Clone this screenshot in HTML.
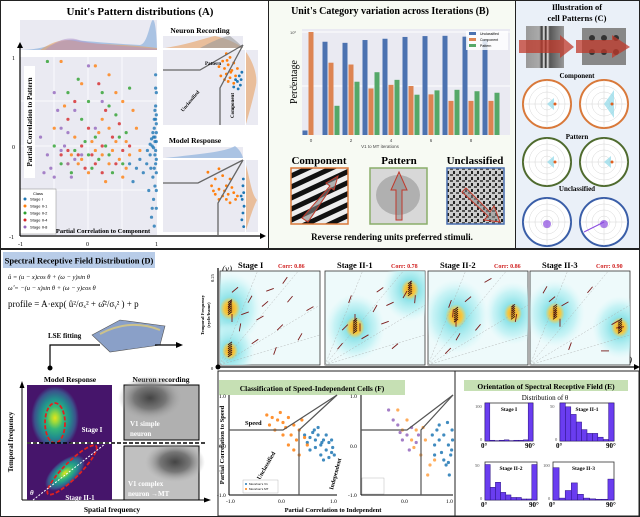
<!DOCTYPE html>
<html><head><meta charset="utf-8"><style>
body{margin:0;background:#fff}
svg{display:block;font-family:"Liberation Serif",serif}
.t{font-weight:bold}
.s{font-family:"Liberation Sans",sans-serif}
</style></head><body>
<svg id="fig" width="640" height="517" viewBox="0 0 640 517" xmlns="http://www.w3.org/2000/svg">
<defs>
<radialGradient id="cy"><stop offset="0" stop-color="#f0a020"/><stop offset="0.18" stop-color="#f5c840"/><stop offset="0.32" stop-color="#8fe3e8"/><stop offset="0.7" stop-color="#b8f0f3" stop-opacity="0.7"/><stop offset="1" stop-color="#d8f8fa" stop-opacity="0"/></radialGradient>
<radialGradient id="vir"><stop offset="0" stop-color="#e6e419"/><stop offset="0.15" stop-color="#9bd93c"/><stop offset="0.35" stop-color="#35b779"/><stop offset="0.6" stop-color="#21908d"/><stop offset="0.85" stop-color="#3b528b"/><stop offset="1" stop-color="#46156b"/></radialGradient>
<radialGradient id="gry"><stop offset="0" stop-color="#444"/><stop offset="0.5" stop-color="#777"/><stop offset="1" stop-color="#aaa" stop-opacity="0"/></radialGradient>
<linearGradient id="grat" x1="0" x2="1"><stop offset="0" stop-color="#999"/><stop offset="0.35" stop-color="#aaa"/><stop offset="0.42" stop-color="#333"/><stop offset="0.47" stop-color="#eee"/><stop offset="0.52" stop-color="#222"/><stop offset="0.57" stop-color="#eee"/><stop offset="0.62" stop-color="#555"/><stop offset="1" stop-color="#999"/></linearGradient>
<pattern id="stripes" width="10" height="10" patternUnits="userSpaceOnUse" patternTransform="rotate(-25)"><rect width="10" height="5" fill="#111"/><rect y="5" width="10" height="5" fill="#eee"/></pattern>
<pattern id="noise" width="6" height="6" patternUnits="userSpaceOnUse"><rect width="6" height="6" fill="#ccc"/><rect width="3" height="2" fill="#555"/><rect x="3" y="3" width="2" height="3" fill="#222"/></pattern>
</defs>
<rect width="640" height="517" fill="#fff"/>
<g id="pA">
<rect x="0.5" y="0.5" width="268" height="248" fill="#fff" stroke="#222"/>
<text x="140" y="15" text-anchor="middle" class="t" font-size="11">Unit's Pattern distributions (A)</text>
<rect x="20" y="20" width="137" height="30" fill="#eaeaf2"/>
<path d="M20 50 C50 50 60 38 75 40 C95 42 120 44 140 45 C148 44 150 20 153 20 C156 20 157 45 157 50Z" fill="#7fa8d8" opacity="0.6"/>
<path d="M40 50 C55 40 65 38 80 42 C100 45 130 44 157 48 L157 50Z" fill="#e8a060" opacity="0.6"/>
<path d="M45 50 C60 38 70 36 82 41 C100 45 130 46 157 49 L157 50Z" fill="#b090c8" opacity="0.5"/>
<rect x="20" y="57" width="137" height="178" fill="#eaeaf2"/>
<g stroke="#fff" stroke-width="0.8">
<line x1="54" y1="57" x2="54" y2="235"/><line x1="88" y1="57" x2="88" y2="235"/><line x1="122" y1="57" x2="122" y2="235"/>
<line x1="20" y1="101" x2="157" y2="101"/><line x1="20" y1="146" x2="157" y2="146"/><line x1="20" y1="190" x2="157" y2="190"/>
</g>
<g id="scA"></g>
<rect x="24" y="66" width="11" height="112" fill="#fff"/>
<text transform="translate(32,122) rotate(-90)" text-anchor="middle" class="t" font-size="7">Partial Correlation to Pattern</text>
<rect x="20" y="189" width="36" height="45" fill="#fff" stroke="#888" stroke-width="0.5"/>
<g id="legA" font-size="4" class="s"></g>
<line x1="20" y1="236" x2="20" y2="46" stroke="#000" stroke-width="1.2"/>
<path d="M17 48 L20 42 L23 48Z"/>
<line x1="20" y1="236" x2="262" y2="236" stroke="#000" stroke-width="1.2"/>
<path d="M260 233 L266 236 L260 239Z"/>
<g font-size="6"><text x="12" y="60">1</text><text x="12" y="149">0</text><text x="9" y="239">-1</text><text x="18" y="246">-1</text><text x="86" y="246">0</text><text x="155" y="246">1</text></g>
<text x="103" y="233" text-anchor="middle" class="t" font-size="6.5">Partial Correlation to Component</text>
<text x="200" y="33" text-anchor="middle" class="t" font-size="7.5">Neuron Recording</text>
<rect x="163" y="36" width="80" height="12" fill="#eaeaf2"/>
<path d="M165 48 C190 44 205 38 215 36 C225 38 235 42 243 48Z" fill="#e8a060" opacity="0.6"/>
<path d="M200 48 C215 40 225 36 230 36 C235 40 240 44 243 48Z" fill="#999" opacity="0.6"/>
<rect x="163" y="50" width="82" height="75" fill="#eaeaf2"/>
<rect x="246" y="50" width="12" height="75" fill="#eaeaf2"/>
<path d="M246 52 C252 60 258 75 256 85 C254 95 250 110 246 124Z" fill="#e8a060" opacity="0.6"/>
<g id="scNR"></g>
<polyline points="163,70 200,70 243,45" fill="none" stroke="#666" stroke-width="1.3"/>
<polyline points="220,125 220,88 243,45" fill="none" stroke="#666" stroke-width="1.3"/>
<text x="205" y="65" font-size="5" class="t">Pattern</text>
<text transform="translate(183,112) rotate(-50)" font-size="5" class="t">Unclassified</text>
<text transform="translate(234,118) rotate(-90)" font-size="5" class="t">Component</text>
<text x="195" y="143" text-anchor="middle" class="t" font-size="7.5">Model Response</text>
<rect x="163" y="147" width="80" height="11" fill="#eaeaf2"/>
<path d="M165 158 C200 154 225 152 235 146 C240 150 242 154 243 158Z" fill="#7fa8d8" opacity="0.6"/>
<rect x="163" y="160" width="82" height="72" fill="#eaeaf2"/>
<rect x="246" y="160" width="12" height="72" fill="#eaeaf2"/>
<path d="M246 165 C250 180 252 195 257 200 C252 210 248 225 246 230Z" fill="#e8a060" opacity="0.6"/>
<g id="scMR"></g>
<polyline points="163,183 198,183 243,160" fill="none" stroke="#666" stroke-width="1.3"/>
<polyline points="218,236 218,203 243,160" fill="none" stroke="#666" stroke-width="1.3"/>
</g>
<g id="pB">
<rect x="268.5" y="0.5" width="247" height="248" fill="#f7faf3" stroke="#222"/>
<text x="390" y="14" text-anchor="middle" class="t" font-size="10">Unit's Category variation across Iterations (B)</text>
<rect x="302" y="29" width="208" height="106" fill="#eaeaf2"/>
<line x1="302" y1="32" x2="510" y2="32" stroke="#fff"/>
<line x1="302" y1="86" x2="510" y2="86" stroke="#fff"/>
<g id="bars"></g>
<g font-size="4" class="s" fill="#444"><text x="290" y="34">10⁰</text><text x="289" y="88">10⁻¹</text></g>
<g id="bxt" font-size="4.5" class="s" fill="#444"></g>
<text x="380" y="148" text-anchor="middle" font-size="4.5" class="s" fill="#444">V1 to MT iterations</text>
<text transform="translate(297,82) rotate(-90)" text-anchor="middle" font-size="10">Percentage</text>
<rect x="466" y="31" width="42" height="19" fill="#fff" opacity="0.8"/>
<g font-size="3.5" class="s">
<rect x="469" y="32" width="7" height="3" fill="#4c72b0"/><text x="480" y="35">Unclassified</text>
<rect x="469" y="38" width="7" height="3" fill="#dd8452"/><text x="480" y="41">Component</text>
<rect x="469" y="44" width="7" height="3" fill="#55a868"/><text x="480" y="47">Pattern</text></g>
<g class="t" font-size="11" text-anchor="middle"><text x="319" y="164">Component</text><text x="399" y="164">Pattern</text><text x="475" y="164">Unclassified</text></g>
<rect x="291" y="168" width="57" height="56" fill="url(#stripes)" stroke="#d9793a" stroke-width="1.5"/>
<rect x="370" y="168" width="57" height="56" fill="#d8d8d8" stroke="#8aae6a" stroke-width="1.5"/>
<ellipse cx="398" cy="195" rx="22" ry="20" fill="#888" opacity="0.5"/>
<rect x="447" y="168" width="57" height="56" fill="url(#noise)" stroke="#4a6eb0" stroke-width="1.5"/>
<path d="M302 218 L330 186 L326 183 L338 176 L334 190 L331 188 L308 222Z" fill="#888" fill-opacity="0.6" stroke="#c0392b"/>
<path d="M396 220 L396 190 L391 190 L399 172 L407 190 L402 190 L402 220Z" fill="#888" fill-opacity="0.5" stroke="#c0392b"/>
<path d="M466 188 L490 212 L494 206 L500 222 L484 220 L488 216 L462 192Z" fill="#888" fill-opacity="0.5" stroke="#c0392b"/>
<text x="392" y="240" text-anchor="middle" class="t" font-size="9">Reverse rendering units preferred stimuli.</text>
</g>
<g id="pC">
<rect x="515.5" y="0.5" width="124" height="248" fill="#eaf0f8" stroke="#222"/>
<text x="577" y="10" text-anchor="middle" class="t" font-size="8.5">Illustration of</text>
<text x="577" y="21" text-anchor="middle" class="t" font-size="8.5">cell Patterns (C)</text>
<rect x="526" y="26" width="38" height="42" fill="url(#grat)"/>
<rect x="582" y="28" width="44" height="37" fill="#888"/>
<g fill="#333"><circle cx="592" cy="38" r="3"/><circle cx="604" cy="38" r="3"/><circle cx="616" cy="38" r="3"/><circle cx="592" cy="52" r="3"/><circle cx="604" cy="52" r="3"/><circle cx="616" cy="52" r="3"/></g>
<path d="M519 40 L560 40 L560 35 L574 47 L560 58 L560 53 L519 53Z" fill="#c0392b" opacity="0.75"/>
<path d="M576 40 L612 40 L612 35 L630 47 L612 58 L612 53 L576 53Z" fill="#c0392b" opacity="0.75"/>
<g class="t" font-size="7" text-anchor="middle"><text x="577" y="78">Component</text><text x="577" y="139">Pattern</text><text x="577" y="191">Unclassified</text></g>
<g id="polars"></g>
</g>
<rect x="0.5" y="249.5" width="639" height="267" fill="none" stroke="#222"/>
<g id="pD">
<rect x="3" y="252" width="152" height="16" fill="#b8cce8"/>
<text x="79" y="263.5" text-anchor="middle" class="t" font-size="8.5">Spectral Receptive Field Distribution (D)</text>
<text x="8" y="279" font-size="6.5" font-style="italic">û = (u − x)cos θ + (ω − y)sin θ</text>
<text x="8" y="290" font-size="6.5" font-style="italic">ω̂ = −(u − x)sin θ + (ω − y)cos θ</text>
<text x="8" y="307" font-size="9">profile = A·exp( û²/σₓ² + ω̂²/σᵧ² ) + p</text>
<text x="48" y="338" class="t" font-size="7">LSE fitting</text>
<path d="M92 335 L120 320 L165 326 L160 345 L110 352Z" fill="#8aa0c8" stroke="#555" stroke-width="0.6"/>
<path d="M100 334 Q130 318 160 330" fill="none" stroke="#e8d070" stroke-width="2" opacity="0.7"/>
<polyline points="50,368 50,345 100,345" fill="none" stroke="#000" stroke-width="1.2"/>
<line x1="155" y1="345" x2="178" y2="345" stroke="#000" stroke-width="1.2"/>
<path d="M176 342 L183 345 L176 348Z"/>
<circle cx="50" cy="368" r="2.5"/>
<text x="70" y="382" text-anchor="middle" class="t" font-size="7.5">Model Response</text>
<text x="161" y="382" text-anchor="middle" class="t" font-size="7.5">Neuron recording</text>
<line x1="22" y1="500" x2="22" y2="385" stroke="#000"/>
<path d="M19.5 388 L22 381 L24.5 388Z"/>
<line x1="22" y1="500" x2="206" y2="500" stroke="#000"/>
<path d="M204 497.5 L211 500 L204 502.5Z"/>
<text transform="translate(13,442) rotate(-90)" text-anchor="middle" class="t" font-size="7">Temporal frequency</text>
<text x="112" y="512" text-anchor="middle" class="t" font-size="7.5">Spatial frequency</text>
<rect x="27" y="385" width="85" height="57" fill="#46156b"/>
<ellipse cx="55" cy="418" rx="24" ry="32" fill="url(#vir)"/>
<ellipse cx="55" cy="423" rx="10" ry="20" fill="none" stroke="#e02020" stroke-width="1.8" stroke-dasharray="4,2"/>
<text x="92" y="432" text-anchor="middle" class="t" font-size="7" fill="#fff">Stage I</text>
<rect x="27" y="444" width="85" height="56" fill="#46156b"/>
<ellipse cx="65" cy="473" rx="24" ry="12" transform="rotate(-40 65 473)" fill="url(#vir)"/>
<ellipse cx="72" cy="470" rx="34" ry="8" transform="rotate(-45 72 470)" fill="none" stroke="#e02020" stroke-width="1.8" stroke-dasharray="4,2"/>
<line x1="33" y1="500" x2="105" y2="444" stroke="#fff" stroke-dasharray="2,1.5"/>
<text x="30" y="495" fill="#fff" font-style="italic" class="t" font-size="7">θ</text>
<text x="80" y="500" text-anchor="middle" class="t" font-size="7" fill="#fff">Stage II-1</text>
<line x1="27" y1="443" x2="206" y2="443" stroke="#000" stroke-width="1.5" stroke-dasharray="4,2"/>
<rect x="124" y="385" width="75" height="55" fill="#b0b0b0" stroke="#000"/>
<ellipse cx="150" cy="398" rx="32" ry="22" fill="url(#gry)"/>
<text x="130" y="426" class="t" font-size="7" fill="#fff">V1 simple</text>
<text x="130" y="436" class="t" font-size="7" fill="#fff">neuron</text>
<rect x="124" y="446" width="75" height="54" fill="#c0c0c0" stroke="#000"/>
<ellipse cx="175" cy="462" rx="30" ry="20" fill="url(#gry)"/>
<text x="128" y="486" class="t" font-size="7" fill="#fff">V1 complex</text>
<text x="128" y="496" class="t" font-size="7" fill="#fff">neuron →MT</text>
</g>
<g id="spec">
<line x1="218" y1="367" x2="636" y2="367" stroke="#000" stroke-width="1.2"/>
<path d="M634 364 L640 367 L634 370Z"/>
<line x1="218" y1="367" x2="218" y2="268" stroke="#000" stroke-width="1.2"/>
<circle cx="218" cy="367" r="2.5"/>
<text x="222" y="272" font-size="9" font-style="italic">(y)</text>
<text x="622" y="363" font-size="9" font-style="italic">(x)</text>
<g font-size="4.5"><text x="211" y="370">0</text><text transform="translate(214,282) rotate(-90)">0.25</text><text x="218" y="376">0</text><text x="312" y="376">0.25</text><text x="527" y="376">0</text><text x="626" y="376">0.25</text></g>
<text x="440" y="375" text-anchor="middle" class="t" font-size="5.5">Spatial Frequency (cycle/pixel)</text>
<text transform="translate(204,315) rotate(-90)" text-anchor="middle" class="t" font-size="4.5">Temporal Frequency</text>
<text transform="translate(210,315) rotate(-90)" text-anchor="middle" class="t" font-size="4.5">(cycle/frame)</text>
</g>
<g id="pF">
<rect x="218" y="371" width="237" height="145" fill="#fff" stroke="#222"/>
<rect x="219" y="380" width="186" height="15" fill="#c6e0b4"/>
<text x="312" y="391" text-anchor="middle" class="t" font-size="7.5">Classification of Speed-Independent Cells (F)</text>
<line x1="229" y1="395" x2="229" y2="495" stroke="#000"/>
<line x1="229" y1="495" x2="337" y2="495" stroke="#000"/>
<line x1="361" y1="395" x2="361" y2="495" stroke="#000"/>
<line x1="361" y1="495" x2="453" y2="495" stroke="#000"/>
<g id="scF"></g>
<polyline points="229,430 283,430 337,395" fill="none" stroke="#555" stroke-width="1.2"/>
<polyline points="299,495 299,430 337,395" fill="none" stroke="#555" stroke-width="1.2"/>
<polyline points="361,430 407,430 453,395" fill="none" stroke="#555" stroke-width="1.2"/>
<polyline points="421,495 421,430 453,395" fill="none" stroke="#555" stroke-width="1.2"/>
<text x="245" y="425" class="t" font-size="6.5">Speed</text>
<text transform="translate(260,480) rotate(-60)" class="t" font-size="6">Unclassified</text>
<text transform="translate(333,490) rotate(-75)" class="t" font-size="6">Independent</text>
<g font-size="5.5"><text x="219" y="398">1.0</text><text x="219" y="448">0.0</text><text x="217" y="497">-1.0</text><text x="226" y="503">-1.0</text><text x="278" y="503">0.0</text><text x="330" y="503">1.0</text><text x="350" y="398">1.0</text><text x="350" y="448">0.0</text><text x="348" y="497">-1.0</text><text x="401" y="503">0.0</text><text x="446" y="503">1.0</text></g>
<text x="333" y="512" text-anchor="middle" class="t" font-size="6.5">Partial Correlation to Independent</text>
<text transform="translate(224,445) rotate(-90)" text-anchor="middle" class="t" font-size="6.5">Partial Correlation to Speed</text>
<rect x="243" y="480" width="35" height="13" fill="#fff" stroke="#aaa" stroke-width="0.4"/>
<g font-size="3" class="s"><circle cx="246" cy="484" r="1" fill="#1f77b4"/><text x="249" y="485">Movshon's V1</text><circle cx="246" cy="489" r="1" fill="#ff7f0e"/><text x="249" y="490">Movshon's MT</text></g>
<rect x="362" y="478" width="22" height="16" fill="#fff" stroke="#aaa" stroke-width="0.4"/>
</g>
<g id="pE">
<rect x="455" y="371" width="184" height="145" fill="#fff" stroke="#222"/>
<rect x="464" y="380" width="164" height="11" fill="#c6e0b4"/>
<text x="546" y="389" text-anchor="middle" class="t" font-size="7.5">Orientation of Spectral Receptive Field (E)</text>
<text x="545" y="400" text-anchor="middle" font-size="7">Distribution of θ</text>
<g id="hists"></g>
</g>
</svg>
<script>
const NS="http://www.w3.org/2000/svg";
function mk(tag,attrs,parent){const e=document.createElementNS(NS,tag);for(const k in attrs)e.setAttribute(k,attrs[k]);parent.appendChild(e);return e;}
const aStage1=[[0.98,0.8],[0.99,0.6],[0.97,0.4],[0.98,0.3],[0.96,0.2],[0.99,0.15],[0.95,0.1],[0.97,0.05],[0.93,0.0],[0.98,-0.05],[0.9,-0.1],[0.99,-0.15],[0.85,-0.2],[0.96,-0.25],[0.8,-0.3],[0.94,-0.35],[0.7,-0.25],[0.97,-0.45],[0.88,-0.5],[0.95,-0.6],[0.99,-0.7],[0.92,-0.8],[0.96,-0.9],[0.75,-0.15],[0.6,-0.2],[0.98,0.45],[0.99,0.25],[0.97,0.1],[0.92,0.08],[0.99,-0.3],[0.94,0.15],[0.9,0.02],[0.86,-0.05],[0.98,-0.2],[0.65,-0.4],[0.99,0.35],[0.97,-0.1],[0.95,-0.02],[0.99,0.05],[0.91,-0.25],[0.96,0.3],[0.99,-0.5],[0.93,-0.7],[0.98,0.65]];
const aStage2_1=[[-0.4,0.95],[-0.1,0.7],[0.3,0.8],[0.5,0.5],[0.2,0.3],[-0.2,0.1],[0.1,-0.05],[0.4,0.05],[0.6,-0.1],[-0.3,-0.2],[0.0,-0.3],[0.3,-0.2],[0.5,-0.35],[0.7,0.2],[-0.5,0.2],[0.15,0.15],[0.45,-0.15],[-0.1,-0.15],[0.25,-0.4],[0.65,0.4],[0.35,-0.05],[-0.25,-0.1],[0.55,0.05],[0.05,0.05],[0.1,0.9],[0.4,0.6],[-0.35,0.45],[0.2,-0.1],[0.55,-0.25],[-0.15,-0.2],[0.3,0.2],[0.75,-0.05]];
const aStage2_2=[[-0.6,0.95],[-0.3,0.6],[0.0,0.5],[0.4,0.35],[0.1,0.1],[-0.2,-0.05],[0.3,-0.1],[-0.4,-0.2],[0.05,-0.25],[0.55,0.15],[-0.1,0.3],[0.2,0.6],[-0.5,0.0],[0.35,-0.3],[0.6,0.65],[-0.25,-0.3],[0.15,-0.15],[0.45,0.1],[-0.05,0.05],[0.25,0.0],[-0.15,0.75],[0.3,0.45],[0.0,-0.1],[0.5,-0.2]];
const aStage2_4=[[-0.3,0.3],[0.0,0.2],[0.2,0.0],[-0.15,-0.1],[0.1,-0.2],[0.35,0.1],[-0.4,-0.1],[0.5,-0.05],[0.25,0.4],[-0.05,-0.25],[0.4,-0.2],[0.6,0.0],[-0.2,0.5],[0.15,0.7],[-0.3,-0.05],[0.05,-0.1],[-0.1,0.0],[0.2,-0.3],[0.45,0.25]];
const aStage2_8=[[-0.5,0.6],[-0.4,0.2],[-0.6,-0.1],[-0.3,-0.2],[-0.2,0.4],[-0.5,-0.35],[-0.7,0.1],[0.0,0.9],[-0.35,0.0],[-0.1,-0.1],[0.2,0.5],[-0.45,0.4],[-0.25,-0.35],[0.1,0.2],[-0.55,-0.25],[-0.2,-0.15],[-0.65,-0.3],[-0.4,-0.05],[-0.3,0.15]];
const aClasses=["Stage I","Stage II-1","Stage II-2","Stage II-4","Stage II-8"];
const nrMT=[[0.5,0.9],[0.6,0.8],[0.4,0.7],[0.55,0.6],[0.7,0.65],[0.45,0.5],[0.65,0.45],[0.3,0.55],[0.5,0.35],[0.75,0.3],[0.6,0.25],[0.35,0.3],[0.8,0.5],[0.55,0.15],[0.7,0.1],[0.45,0.2],[0.62,0.4],[0.52,0.72]];
const nrV1=[[0.85,0.3],[0.9,0.2],[0.8,0.15],[0.88,0.05],[0.75,0.2],[0.92,0.4],[0.82,-0.05],[0.7,0.0]];
const mrOrange=[[0.0,0.7],[0.3,0.8],[0.2,0.5],[0.4,0.6],[0.1,0.3],[0.3,0.2],[0.5,0.3],[0.6,0.5],[0.2,0.05],[0.4,0.0],[0.5,-0.1],[0.7,0.1],[0.6,-0.2],[0.3,-0.1],[0.8,0.0],[0.45,0.15],[0.65,0.25],[0.15,0.15],[0.55,0.05],[0.75,-0.1]];
const mrBlue=[[0.95,0.3],[0.97,0.1],[0.93,-0.1],[0.98,-0.3],[0.95,-0.5],[0.92,-0.7],[0.97,-0.9],[0.9,0.0],[0.96,0.5]];
const barUnc=[0.015,0.66,0.63,0.71,0.75,0.81,0.84,0.85,0.82,0.72];
const barComp=[1.0,0.27,0.25,0.09,0.105,0.1,0.07,0.053,0.053,0.053];
const barPat=[0.011,0.043,0.12,0.18,0.13,0.069,0.083,0.085,0.08,0.075];
const xTickLabels=["0","2","4","6","8"];
const specTitles=["Stage I","Stage II-1","Stage II-2","Stage II-3"];
const specCorr=["Corr: 0.86","Corr: 0.78","Corr: 0.86","Corr: 0.90"];
const specBlobs=[[[0.1,0.4,0.32],[0.1,0.85,0.25]],[[0.85,0.2,0.28],[0.3,0.6,0.3]],[[0.28,0.48,0.33],[0.85,0.45,0.28]],[[0.25,0.45,0.3],[0.9,0.6,0.28]]];
const specSegs=[[[0.1,0.35,70],[0.15,0.2,40],[0.3,0.3,60],[0.4,0.5,30],[0.5,0.2,20],[0.6,0.6,45],[0.2,0.6,80],[0.7,0.3,50],[0.35,0.75,35],[0.8,0.7,60],[0.25,0.45,20],[0.55,0.85,70],[0.12,0.5,90],[0.45,0.35,40],[0.65,0.1,55],[0.9,0.4,30]],
[[0.85,0.15,80],[0.8,0.25,60],[0.3,0.5,90],[0.2,0.6,45],[0.4,0.7,30],[0.5,0.4,60],[0.6,0.55,20],[0.7,0.8,40],[0.25,0.3,70],[0.9,0.3,85],[0.15,0.8,50],[0.55,0.2,35],[0.35,0.6,90],[0.65,0.35,25]],
[[0.25,0.45,85],[0.28,0.55,90],[0.22,0.35,70],[0.85,0.4,90],[0.88,0.5,80],[0.4,0.3,40],[0.3,0.7,60],[0.6,0.1,30],[0.5,0.6,50],[0.2,0.85,45]],
[[0.25,0.45,85],[0.22,0.3,40],[0.3,0.55,90],[0.9,0.6,10],[0.85,0.55,30],[0.6,0.2,50],[0.4,0.8,70],[0.75,0.85,0],[0.15,0.2,60],[0.35,0.35,30]]];
const fMovV1=[[0.5,0.15],[0.6,0.1],[0.7,0.0],[0.8,-0.1],[0.9,-0.15],[0.55,0.25],[0.65,0.2],[0.75,0.1],[0.85,0.05],[0.95,-0.2],[0.45,0.05],[0.7,-0.2],[0.8,0.2],[0.6,-0.05],[0.9,0.1],[0.5,-0.1],[0.75,-0.3],[0.65,0.35],[0.4,0.2],[0.85,-0.25],[0.72,0.05],[0.58,0.3],[0.92,-0.05]];
const fMovMT=[[-0.3,0.6],[-0.2,0.55],[-0.1,0.5],[0.0,0.45],[0.1,0.55],[-0.25,0.4],[0.05,0.35],[0.2,0.4],[0.3,0.3],[0.15,0.2],[-0.15,0.3],[0.35,0.5],[0.0,0.2],[0.25,0.1],[0.1,0.0],[0.4,0.15],[0.3,-0.2],[0.2,-0.1],[-0.05,0.65],[0.45,0.0]];
const fModS1=[[0.8,0.2],[0.9,0.0],[0.95,-0.2],[0.85,-0.4],[0.7,0.1],[0.6,0.0],[0.98,0.3],[0.75,-0.15],[0.92,-0.6],[0.65,0.3],[0.55,0.2],[0.88,0.45],[0.97,-0.1],[0.8,-0.3],[0.7,0.4],[0.99,0.1],[0.9,-0.35],[0.6,-0.2]];
const fModS2=[[-0.2,0.7],[0.0,0.5],[0.2,0.3],[0.4,0.1],[0.3,-0.2],[0.1,0.1],[0.5,-0.4],[-0.1,0.3],[0.35,0.35],[0.6,-0.3],[0.15,-0.05],[0.45,-0.6]];
const fModS3=[[-0.4,0.7],[-0.2,0.4],[0.0,0.2],[0.1,0.35],[-0.1,0.1],[0.2,0.05],[0.05,-0.1],[-0.3,0.5],[0.25,0.2],[-0.15,0.25]];
const histI=[100,2,1,2,3,1,2,2,3,100];
const histII1=[50,45,35,25,15,10,10,5,2,50];
const histII2=[70,25,35,15,10,5,5,2,2,70];
const histII3=[85,5,25,45,15,5,3,2,2,55];
const histNames=["Stage I","Stage II-1","Stage II-2","Stage II-3"];
const histMax=[100,50,75,100];
const colA=["#1f77b4","#ff7f0e","#2ca02c","#d62728","#9467bd"];
const aSets=[aStage1,aStage2_1,aStage2_2,aStage2_4,aStage2_8];
const ax=v=>88.5+68.5*v, ay=v=>146-89*v;
const gA=document.getElementById('scA');
aSets.forEach((set,k)=>set.forEach(p=>{
  const c=mk('circle',{cx:ax(p[0]),cy:ay(p[1]),r:1.6,fill:colA[k],opacity:0.8},gA);
  
  
}));
const lg=document.getElementById('legA');
mk('text',{x:33,y:195},lg).textContent="Class";
aClasses.forEach((n,i)=>{
  const d=mk('circle',{cx:25,cy:199+i*7,r:1.5,fill:colA[i]},lg);
  
  
  const t=mk('text',{x:30,y:200.5+i*7},lg);t.textContent=n;
  
  
});
const nx=v=>163+82*(v+1)/2*0.9+8, ny=v=>87-37*v;
const gN=document.getElementById('scNR');
nrMT.forEach(p=>{const c=mk('circle',{cx:nx(p[0]),cy:ny(p[1]),r:1.4,fill:"#ff7f0e"},gN);
  
  });
nrV1.forEach(p=>{const c=mk('circle',{cx:nx(p[0]),cy:ny(p[1]),r:1.4,fill:"#1f77b4"},gN);
  
  });
const my=v=>196-34*v;
const gM=document.getElementById('scMR');
mrOrange.forEach(p=>{const c=mk('circle',{cx:nx(p[0]),cy:my(p[1]),r:1.4,fill:"#ff7f0e"},gM);
  
  });
mrBlue.forEach(p=>{const c=mk('circle',{cx:nx(p[0]),cy:my(p[1]),r:1.4,fill:"#1f77b4"},gM);
  
  });
const by=v=>Math.min(135,32-54*Math.log10(v));
const bx=i=>311+20*i;
const gB=document.getElementById('bars');
[[barUnc,"#4c72b0",-6],[barComp,"#dd8452",0],[barPat,"#55a868",6]].forEach(([arr,col,off])=>arr.forEach((v,i)=>{
  const y=by(v);
  const r=mk('rect',{x:bx(i)+off-2.5,y:y,width:5,height:135-y,fill:col},gB);
  
  
}));
const gX=document.getElementById('bxt');
xTickLabels.forEach((l,i)=>{const t=mk('text',{x:bx(i*2),y:142,'text-anchor':'middle'},gX);t.textContent=l;
  
  });
const gP=document.getElementById('polars');
const polarDefs=[[547,104,"#d9793a"],[604,104,"#d9793a"],[547,162,"#4f6b2e"],[604,162,"#4f6b2e"],[547,222,"#3a5ea8"],[604,222,"#3a5ea8"]];
polarDefs.forEach((p,i)=>{
  const g=mk('g',{},gP);
  
  
  mk('circle',{cx:p[0],cy:p[1],r:24,fill:'#fff',stroke:p[2],'stroke-width':2},g);
  [6,12,18].forEach(r=>mk('circle',{cx:p[0],cy:p[1],r:r,fill:'none',stroke:'#ccc','stroke-width':0.4},g));
  mk('line',{x1:p[0]-24,y1:p[1],x2:p[0]+24,y2:p[1],stroke:'#ccc','stroke-width':0.4},g);
  mk('line',{x1:p[0],y1:p[1]-24,x2:p[0],y2:p[1]+24,stroke:'#ccc','stroke-width':0.4},g);
  if(i<4){mk('path',{d:`M${p[0]} ${p[1]} l${i==1?10:7} -${i==1?14:6} l0 ${i==1?28:12}Z`,fill:'#8fd8e8',opacity:0.7},g);
    mk('circle',{cx:p[0]+8,cy:p[1],r:1.5,fill:'#e06020'},g);}
  else {mk('circle',{cx:p[0],cy:p[1]+2,r:4,fill:'#8a4ae0',opacity:0.7},g);
    if(i==5)mk('line',{x1:p[0],y1:p[1],x2:p[0]-20,y2:p[1]+10,stroke:'#8a4ae0'},g);}
});
const gS=document.getElementById('spec');
const sx0=[220,325,428,530], sw=100, sy0=271, sh=94;
specTitles.forEach((t,k)=>{
  const g=mk('g',{},gS);
  
  
  const X=v=>sx0[k]+v*sw, Y=v=>sy0+v*sh;
  mk('rect',{x:sx0[k],y:sy0,width:sw,height:sh,fill:'#eefafb',stroke:'#333','stroke-width':0.8},g);
  const cp=mk('clipPath',{id:'cp'+k},g);
  mk('rect',{x:sx0[k],y:sy0,width:sw,height:sh},cp);
  const gi=mk('g',{'clip-path':'url(#cp'+k+')'},g);
  specBlobs[k].forEach(b=>{const e=mk('ellipse',{cx:X(b[0]),cy:Y(b[1]),rx:b[2]*sw,ry:b[2]*sh*1.2,fill:'url(#cy)'},gi);
    
    });
  [0.3,0.6,1.2,2.5].forEach(s=>mk('line',{x1:sx0[k],y1:sy0+sh,x2:sx0[k]+Math.min(sw,sh/s),y2:sy0+sh-Math.min(sh,sw*s),stroke:'#aaa','stroke-width':0.4,'stroke-dasharray':'2,1.5'},g));
  specSegs[k].forEach(s=>{const a=s[2]*Math.PI/180,dx=4*Math.cos(a),dy=4*Math.sin(a);
    const l=mk('line',{x1:X(s[0])-dx,y1:Y(s[1])+dy,x2:X(s[0])+dx,y2:Y(s[1])-dy,stroke:'#7a1a1a','stroke-width':0.9},g);
    
    });
  specBlobs[k].forEach(b=>{for(let j=-3;j<=3;j++){const l=mk('line',{x1:X(b[0])-2,y1:Y(b[1])+j*2,x2:X(b[0])+2,y2:Y(b[1])+j*2-3,stroke:'#301010','stroke-width':0.9},g);
    
    }});
  const tt=mk('text',{x:sx0[k]+(k==0?18:12),y:268,'font-size':8.5,'font-weight':'bold'},gS);tt.textContent=t;
  
  
  const ct=mk('text',{x:sx0[k]+(k==0?58:66),y:268,'font-size':6,'font-weight':'bold',fill:'#d02020'},gS);ct.textContent=specCorr[k];
  
  
});
const gF=document.getElementById('scF');
const f1x=v=>283+54*v, fy=v=>445-50*v, f2x=v=>407+46*v;
[[fMovV1,"#1f77b4",f1x],[fMovMT,"#ff7f0e",f1x],[fModS1,"#1f77b4",f2x],[fModS2,"#ff9f40",f2x],[fModS3,"#9467bd",f2x]].forEach(([arr,col,fx])=>arr.forEach(p=>{
  const c=mk('circle',{cx:fx(p[0]),cy:fy(p[1]),r:1.6,fill:col,opacity:0.85},gF);
  
  
}));
const gH=document.getElementById('hists');
const hBox=[[485,403,48,38],[560,403,54,38],[485,462,52,38],[553,462,61,38]];
[histI,histII1,histII2,histII3].forEach((h,k)=>{
  const [x0,y0,w,ht]=hBox[k];
  const g=mk('g',{},gH);
  
  
  mk('rect',{x:x0,y:y0,width:w,height:ht,fill:'#fff',stroke:'#333','stroke-width':0.8},g);
  const bw=w/h.length;
  h.forEach((v,i)=>{const bh=Math.min(1,v/histMax[k])*ht;
    const r=mk('rect',{x:x0+i*bw,y:y0+ht-bh,width:bw,height:bh,fill:'#6a3df0',stroke:'#2a1080','stroke-width':0.5},g);
    
    });
  const t=mk('text',{x:x0+w/2,y:y0+8,'text-anchor':'middle','font-size':5.5,'font-weight':'bold'},g);t.textContent=histNames[k];
  mk('text',{x:x0-4,y:y0+ht+7,'font-size':7,'font-weight':'bold'},g).textContent="0°";
  mk('text',{x:x0+w-8,y:y0+ht+7,'font-size':7,'font-weight':'bold'},g).textContent="90°";
  mk('text',{x:x0-10,y:y0+5,'font-size':4.5,fill:'#555'},g).textContent=String(histMax[k]==75?50:histMax[k]);
  mk('text',{x:x0-5,y:y0+ht,'font-size':4.5,fill:'#555'},g).textContent="0";
});
</script>
</body></html>
